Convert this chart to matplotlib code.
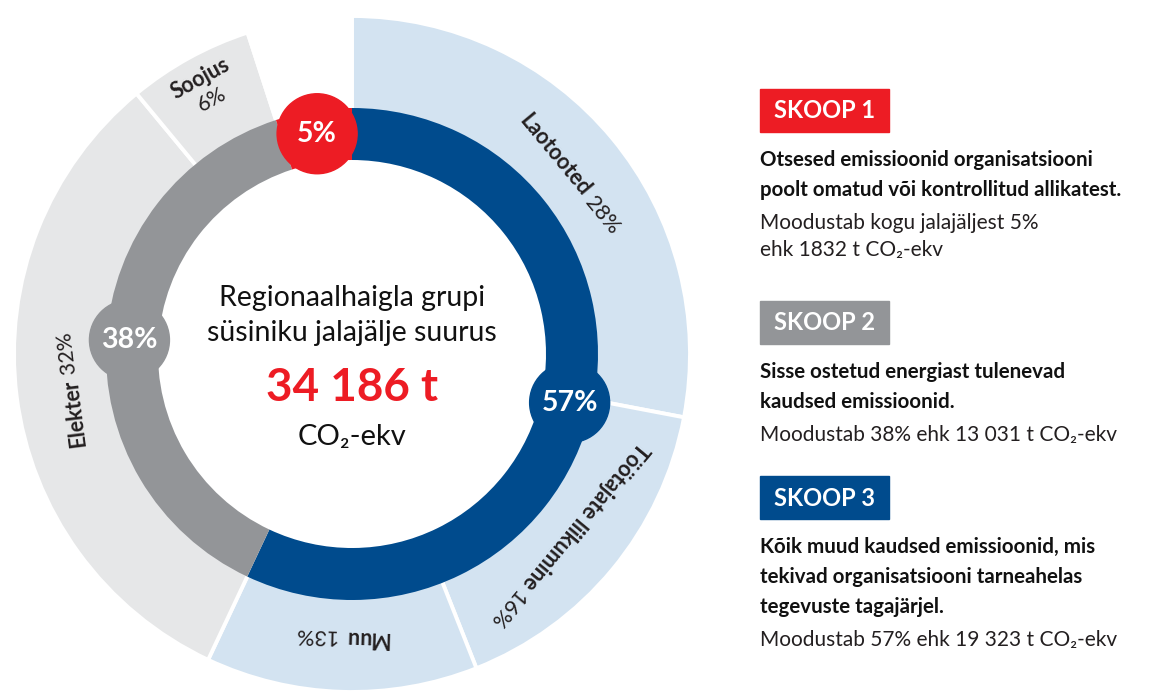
import numpy as np
import matplotlib
matplotlib.use('Agg')
import matplotlib.pyplot as plt
from matplotlib.patches import Circle, Rectangle

plt.rcParams['font.family'] = ['Lato', 'DejaVu Sans']

# data
scope_names = ['SKOOP 1', 'SKOOP 2', 'SKOOP 3']
scope_pct = [5, 38, 57]
scope_tonnes = ['1832', '13 031', '19 323']
sub_names = ['Laotooted', 'Töötajate liikumine', 'Muu', 'Elekter', 'Soojus']
sub_pct = [28, 16, 13, 32, 6]
total_label = '34 186 t'

RED = '#ED1C24'
BLUE = '#004B8D'
GRAY = '#939598'
LGRAY = '#E6E7E8'
LBLUE = '#D3E3F1'
TXT = '#231F20'
scope_colors = [RED, GRAY, BLUE]

W, H = 1160, 698
fig = plt.figure(figsize=(W / 100, H / 100), dpi=100)
ax = fig.add_axes([0, 0, 1, 1])

cx, cy = 352, H - 354
r_in, ring_w = 245, 52
r_out = 338

def Y(y):
    return H - y

# outer ring (subcategories of scope 3 and 2, scope 1 left blank)
outer_vals = sub_pct + [scope_pct[0]]
outer_cols = [LBLUE] * 3 + [LGRAY] * 2 + ['none']
ax.pie(outer_vals, colors=outer_cols, startangle=90, counterclock=False,
       center=(cx, cy), radius=r_out,
       wedgeprops=dict(width=r_out - r_in + 2, edgecolor='white', linewidth=2.8))

# inner ring: scope 3, scope 2, scope 1 clockwise from top
inner_vals = [scope_pct[2], scope_pct[1], scope_pct[0]]
inner_cols = [BLUE, GRAY, RED]
ax.pie(inner_vals, colors=inner_cols, startangle=90, counterclock=False,
       center=(cx, cy), radius=r_in + 1,
       wedgeprops=dict(width=ring_w, linewidth=0))

# percentage badges at segment midpoints
cum = np.cumsum(inner_vals)
r_mid = r_in - ring_w / 2 + 4
for v, c, col in zip(inner_vals, cum, inner_cols):
    th = np.radians((c - v / 2) / 100 * 360)
    px, py = cx + r_mid * np.sin(th), cy + r_mid * np.cos(th)
    ax.add_patch(Circle((px, py), 40, color=col, zorder=3))
    ax.text(px, py, f'{v}%', color='white', fontsize=20.5, weight='bold',
            ha='center', va='center', zorder=4)

renderer = fig.canvas.get_renderer()

def text_w(s, weight, size):
    t = ax.text(0, 0, s, fontsize=size, weight=weight)
    w = t.get_window_extent(renderer).width
    t.remove()
    return w

def arc_label(theta, r, bold, normal, size=15.5):
    th = np.radians(theta)
    rot = -theta
    d = np.array([np.cos(np.radians(rot)), np.sin(np.radians(rot))])
    u = np.array([np.cos(np.radians(rot + 90)), np.sin(np.radians(rot + 90))])
    p = np.array([cx + r * np.sin(th), cy + r * np.cos(th)])
    wb = text_w(bold, 'bold', size)
    wn = text_w(normal, 'normal', size)
    a = p + (wb - wn) / 2 * d - u * size * 0.5
    ax.text(a[0], a[1], bold, rotation=rot, rotation_mode='anchor', fontsize=size,
            weight='bold', ha='right', va='baseline', color=TXT)
    ax.text(a[0], a[1], normal, rotation=rot, rotation_mode='anchor', fontsize=size,
            ha='left', va='baseline', color=TXT)

cum_o = np.cumsum(sub_pct)
for i, (name, v, c) in enumerate(zip(sub_names, sub_pct, cum_o)):
    theta = (c - v / 2) / 100 * 360
    if name == 'Soojus':
        th = np.radians(theta)
        for txt, rr, wt in [(name, 314, 'bold'), (f'{v}%', 290, 'normal')]:
            ax.text(cx + rr * np.sin(th), cy + rr * np.cos(th), txt, rotation=-theta,
                    rotation_mode='anchor', ha='center', va='center', fontsize=15.5,
                    weight=wt, color=TXT)
    else:
        arc_label(theta, 284, name, f' {v}%')

# centre text
ax.text(cx, Y(298), 'Regionaalhaigla grupi', ha='center', va='center', fontsize=20.5, color='#111111')
ax.text(cx, Y(333), 'süsiniku jalajälje suurus', ha='center', va='center', fontsize=20.5, color='#111111')
ax.text(cx, Y(388), total_label, ha='center', va='center', fontsize=33, weight='bold', color=RED)
ax.text(cx, Y(437), 'CO₂-ekv', ha='center', va='center', fontsize=21, color='#111111')

# right-hand legend
box_y = [89, 301, 476]
bold_lines = [['Otsesed emissioonid organisatsiooni', 'poolt omatud või kontrollitud allikatest.'],
              ['Sisse ostetud energiast tulenevad', 'kaudsed emissioonid.'],
              ['Kõik muud kaudsed emissioonid, mis', 'tekivad organisatsiooni tarneahelas',
               'tegevuste tagajärjel.']]
norm_lines = [[f'Moodustab kogu jalajäljest {scope_pct[0]}%', f'ehk {scope_tonnes[0]} t CO₂-ekv'],
              [f'Moodustab {scope_pct[1]}% ehk {scope_tonnes[1]} t CO₂-ekv'],
              [f'Moodustab {scope_pct[2]}% ehk {scope_tonnes[2]} t CO₂-ekv']]
x0 = 760
for name, col, by, bl, nl in zip(scope_names, scope_colors, box_y, bold_lines, norm_lines):
    ax.add_patch(Rectangle((x0, Y(by + 43)), 129, 43, color=col))
    ax.text(x0 + 64.5, Y(by + 22), name, color='white', fontsize=17, weight='bold',
            ha='center', va='center')
    y = by + 71
    for line in bl:
        ax.text(x0, Y(y), line, fontsize=14.8, weight='bold', ha='left', va='center', color='#111111')
        y += 30
    y += 3
    for line in nl:
        ax.text(x0, Y(y), line, fontsize=15, ha='left', va='center', color=TXT)
        y += 27

ax.set_xlim(0, W)
ax.set_ylim(0, H)
ax.set_aspect('equal')
ax.axis('off')

fig.savefig('out.png', dpi=100)
